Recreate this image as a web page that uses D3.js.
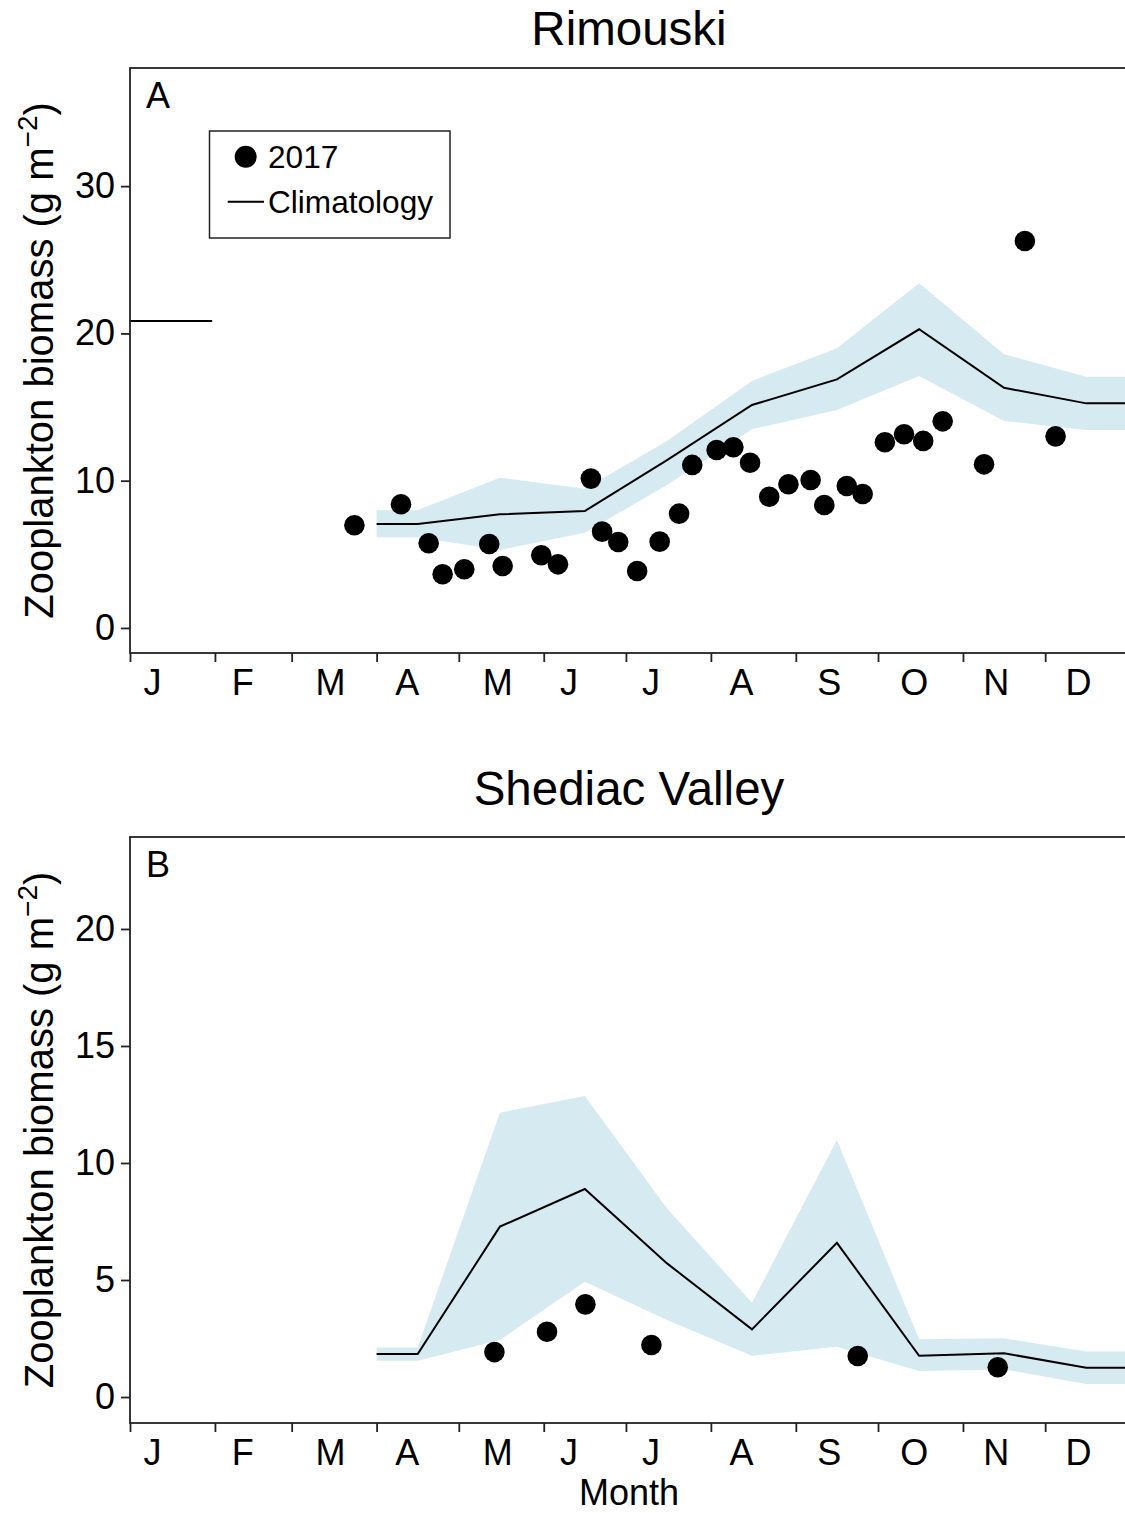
<!DOCTYPE html>
<html>
<head>
<meta charset="utf-8">
<script src="https://cdn.jsdelivr.net/npm/d3@7"></script>
<style>
  body { margin: 0; background: #fff; }
  svg { font-family: "Liberation Sans", Arial, sans-serif; }
</style>
</head>
<body>
<svg id="chart" width="1125" height="1513"></svg>
<script>
// month axis
const monthTickDays = [0, 31, 59, 90, 120, 151, 181, 212, 243, 273, 304, 334];
const monthLabels = ["J", "F", "M", "A", "M", "J", "J", "A", "S", "O", "N", "D"];
const monthLabelDays = [8, 41, 73, 101, 134, 160, 190, 223, 255, 286, 316, 346];

// climatology is given at mid-month, plus Apr 1 and Dec 31
const climDays = [90, 105, 135, 166, 196, 227, 258, 288, 319, 349, 365];

// Rimouski
const rimClim = [7.06, 7.06, 7.72, 7.94, 11.4, 15.14, 16.88, 20.28, 16.31, 15.25, 15.25];
const rimUpper = [8.0, 8.0, 10.2, 9.45, 12.7, 16.77, 18.99, 23.4, 18.58, 17.06, 17.06];
const rimLower = [6.16, 6.16, 5.3, 6.47, 9.7, 13.49, 14.8, 17.1, 14.05, 13.44, 13.44];
const rimJanDays = [0, 30];
const rimJanClim = 20.84;
const rimDays = [81.9, 98.9, 109.0, 114.1, 122.0, 131.1, 136.0, 150.1, 156.2, 168.2, 172.3,
  178.2, 185.1, 193.3, 200.4, 205.2, 214.1, 220.2, 226.3, 233.3, 240.3, 248.4, 253.4,
  261.6, 267.4, 275.5, 282.5, 289.5, 296.6, 311.7, 326.6, 337.8];
const rimValues = [6.97, 8.40, 5.75, 3.65, 3.99, 5.70, 4.21, 4.94, 4.32, 10.14, 6.54,
  5.84, 3.87, 5.86, 7.76, 11.07, 12.08, 12.27, 11.22, 8.91, 9.76, 10.05, 8.35,
  9.64, 9.10, 12.61, 13.15, 12.70, 14.03, 11.11, 26.27, 13.01];

// Shediac Valley
const shedClim = [1.84, 1.84, 7.28, 8.89, 5.71, 2.89, 6.59, 1.76, 1.87, 1.25, 1.25];
const shedUpper = [2.12, 2.12, 12.15, 12.86, 8.06, 4.03, 10.98, 2.47, 2.51, 1.94, 1.94];
const shedLower = [1.55, 1.55, 2.44, 4.93, 3.29, 1.76, 2.15, 1.11, 1.18, 0.56, 0.56];
const shedDays = [133.0, 152.2, 166.2, 190.3, 265.6, 316.7];
const shedValues = [1.92, 2.79, 3.96, 2.22, 1.75, 1.27];

const svg = d3.select("#chart");
const left = 130;
const x = d3.scaleLinear().domain([0, 365]).range([left, left + 2.74 * 365]);

function drawPanel(opt) {
  const y = d3.scaleLinear().domain(opt.yDomain).range([opt.bottom, opt.top]);
  const g = svg.append("g");

  const clim = climDays.map((d, i) => ({ day: d, mid: opt.clim[i], hi: opt.upper[i], lo: opt.lower[i] }));

  g.append("path")
    .datum(clim)
    .attr("fill", "#d6eaf1")
    .attr("d", d3.area().x(d => x(d.day)).y0(d => y(d.lo)).y1(d => y(d.hi)));

  g.append("path")
    .datum(clim)
    .attr("fill", "none")
    .attr("stroke", "#000")
    .attr("stroke-width", 2)
    .attr("d", d3.line().x(d => x(d.day)).y(d => y(d.mid)));

  if (opt.janDays) {
    g.append("path")
      .datum(opt.janDays)
      .attr("fill", "none")
      .attr("stroke", "#000")
      .attr("stroke-width", 2)
      .attr("d", d3.line().x(d => x(d)).y(() => y(opt.janValue)));
  }

  g.selectAll("circle.obs")
    .data(opt.days)
    .join("circle")
    .attr("class", "obs")
    .attr("cx", d => x(d))
    .attr("cy", (d, i) => y(opt.values[i]))
    .attr("r", 10.3)
    .attr("fill", "#000");

  // frame
  g.append("rect")
    .attr("x", x(0)).attr("y", opt.top)
    .attr("width", x(365) - x(0)).attr("height", opt.bottom - opt.top)
    .attr("fill", "none").attr("stroke", "#222").attr("stroke-width", 1.8);

  const yAxis = g.append("g")
    .attr("transform", `translate(${left},0)`)
    .call(d3.axisLeft(y).tickValues(opt.yTicks).tickSize(9).tickPadding(6));
  yAxis.select(".domain").remove();
  yAxis.selectAll("line").attr("stroke", "#222").attr("stroke-width", 1.8);
  yAxis.selectAll("text").attr("font-size", 36).attr("fill", "#000").attr("font-family", null);

  const xTicks = g.append("g")
    .attr("transform", `translate(0,${opt.bottom})`)
    .call(d3.axisBottom(x).tickValues(monthTickDays).tickSize(9).tickFormat(""));
  xTicks.select(".domain").remove();
  xTicks.selectAll("line").attr("stroke", "#222").attr("stroke-width", 1.8);

  const xLabels = g.append("g")
    .attr("transform", `translate(0,${opt.bottom})`)
    .call(d3.axisBottom(x).tickValues(monthLabelDays).tickSize(0).tickPadding(16)
      .tickFormat((d, i) => monthLabels[i]));
  xLabels.select(".domain").remove();
  xLabels.selectAll("text").attr("font-size", 36).attr("fill", "#000").attr("font-family", null);

  // title and panel letter
  g.append("text")
    .attr("x", 629).attr("y", opt.titleY)
    .attr("text-anchor", "middle").attr("font-size", 47.5)
    .text(opt.title);
  g.append("text")
    .attr("x", 146).attr("y", opt.top + 40)
    .attr("font-size", 36)
    .text(opt.letter);

  // y label
  const yl = g.append("text")
    .attr("transform", `translate(53,${(opt.top + opt.bottom) / 2}) rotate(-90)`)
    .attr("text-anchor", "middle")
    .attr("font-size", 40);
  yl.append("tspan").text("Zooplankton biomass (g m");
  yl.append("tspan").attr("font-size", 28).attr("dy", -16).text("\u22122");
  yl.append("tspan").attr("dy", 16).text(")");
}

drawPanel({
  title: "Rimouski", titleY: 45, letter: "A",
  top: 68, bottom: 653, yDomain: [-1.70, 38.02], yTicks: [0, 10, 20, 30],
  clim: rimClim, upper: rimUpper, lower: rimLower,
  janDays: rimJanDays, janValue: rimJanClim,
  days: rimDays, values: rimValues
});

drawPanel({
  title: "Shediac Valley", titleY: 805, letter: "B",
  top: 837, bottom: 1423, yDomain: [-1.11, 23.93], yTicks: [0, 5, 10, 15, 20],
  clim: shedClim, upper: shedUpper, lower: shedLower,
  days: shedDays, values: shedValues
});

// legend (panel A)
const lg = svg.append("g");
lg.append("rect")
  .attr("x", 209.5).attr("y", 131).attr("width", 240.5).attr("height", 107)
  .attr("fill", "#fff").attr("stroke", "#222").attr("stroke-width", 1.5);
lg.append("circle").attr("cx", 245.7).attr("cy", 156.7).attr("r", 11).attr("fill", "#000");
lg.append("line").attr("x1", 227.7).attr("x2", 264).attr("y1", 201.7).attr("y2", 201.7)
  .attr("stroke", "#000").attr("stroke-width", 2);
lg.append("text").attr("x", 268).attr("y", 168).attr("font-size", 31.6).text("2017");
lg.append("text").attr("x", 268).attr("y", 213).attr("font-size", 31.6).text("Climatology");

// x label
svg.append("text")
  .attr("x", 629).attr("y", 1505)
  .attr("text-anchor", "middle").attr("font-size", 36)
  .text("Month");
</script>
</body>
</html>
